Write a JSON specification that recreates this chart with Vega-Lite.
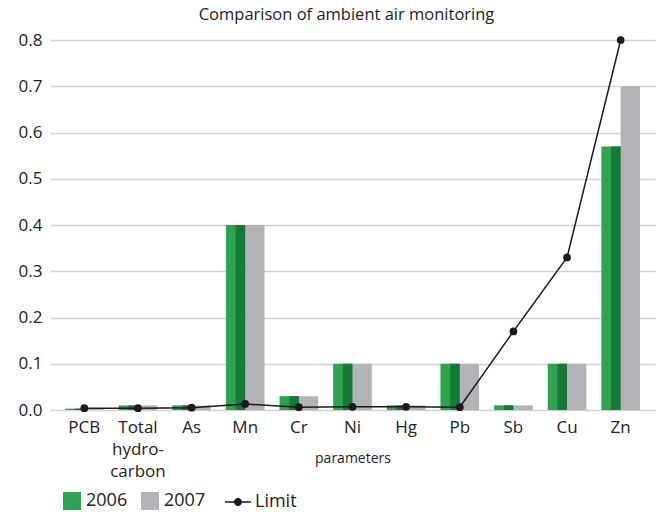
{
  "$schema": "https://vega.github.io/schema/vega-lite/v6.json",
  "width": 605,
  "height": 370,
  "autosize": "none",
  "padding": {"left": 50, "top": 40, "right": 4, "bottom": 102},
  "background": "white",
  "config": {"font": "Open Sans", "view": {"stroke": null}},
  "title": {"text": "Comparison of ambient air monitoring", "fontSize": 16.5, "fontWeight": "normal", "color": "#222222", "offset": 8, "anchor": "middle", "dx": -6},
  "datasets": {
    "measurements": [
      {"parameter": "PCB", "year": "2006", "value": 0.003},
      {"parameter": "PCB", "year": "2007", "value": 0.003},
      {"parameter": "Total hydro-carbon", "year": "2006", "value": 0.01},
      {"parameter": "Total hydro-carbon", "year": "2007", "value": 0.01},
      {"parameter": "As", "year": "2006", "value": 0.01},
      {"parameter": "As", "year": "2007", "value": 0.01},
      {"parameter": "Mn", "year": "2006", "value": 0.40},
      {"parameter": "Mn", "year": "2007", "value": 0.40},
      {"parameter": "Cr", "year": "2006", "value": 0.03},
      {"parameter": "Cr", "year": "2007", "value": 0.03},
      {"parameter": "Ni", "year": "2006", "value": 0.10},
      {"parameter": "Ni", "year": "2007", "value": 0.10},
      {"parameter": "Hg", "year": "2006", "value": 0.01},
      {"parameter": "Hg", "year": "2007", "value": 0.01},
      {"parameter": "Pb", "year": "2006", "value": 0.10},
      {"parameter": "Pb", "year": "2007", "value": 0.10},
      {"parameter": "Sb", "year": "2006", "value": 0.01},
      {"parameter": "Sb", "year": "2007", "value": 0.01},
      {"parameter": "Cu", "year": "2006", "value": 0.10},
      {"parameter": "Cu", "year": "2007", "value": 0.10},
      {"parameter": "Zn", "year": "2006", "value": 0.57},
      {"parameter": "Zn", "year": "2007", "value": 0.70}
    ],
    "limits": [
      {"parameter": "PCB", "limit": 0.004},
      {"parameter": "Total hydro-carbon", "limit": 0.004},
      {"parameter": "As", "limit": 0.005},
      {"parameter": "Mn", "limit": 0.013},
      {"parameter": "Cr", "limit": 0.006},
      {"parameter": "Ni", "limit": 0.007},
      {"parameter": "Hg", "limit": 0.007},
      {"parameter": "Pb", "limit": 0.006},
      {"parameter": "Sb", "limit": 0.17},
      {"parameter": "Cu", "limit": 0.33},
      {"parameter": "Zn", "limit": 0.80}
    ]
  },
  "layer": [
    {
      "data": {"name": "measurements"},
      "mark": {"type": "bar"},
      "encoding": {
        "x": {
          "field": "parameter", "type": "nominal",
          "sort": ["PCB", "Total hydro-carbon", "As", "Mn", "Cr", "Ni", "Hg", "Pb", "Sb", "Cu", "Zn"],
          "scale": {"paddingInner": 0.28, "paddingOuter": 0.28},
          "axis": {
            "title": "parameters", "titleFontSize": 14, "titleFontWeight": "normal", "titleColor": "#222222",
            "titleY": 48, "titleBaseline": "middle",
            "labelFontSize": 17, "labelColor": "#222222", "labelAngle": 0, "labelPadding": 9,
            "labelBaseline": "top", "labelLineHeight": 22, "labelLimit": 0,
            "ticks": false, "domain": false,
            "labelExpr": "datum.label == 'Total hydro-carbon' ? ['Total', 'hydro-', 'carbon'] : datum.label"
          }
        },
        "xOffset": {"field": "year", "type": "nominal", "sort": ["2006", "2007"]},
        "y": {
          "field": "value", "type": "quantitative",
          "scale": {"domain": [0, 0.8], "nice": false},
          "axis": {
            "title": null, "values": [0, 0.1, 0.2, 0.3, 0.4, 0.5, 0.6, 0.7, 0.8], "format": ".1f",
            "labelFontSize": 17, "labelColor": "#222222", "ticks": false, "domain": false,
            "gridColor": "#d2d2d2", "gridWidth": 1.5, "labelPadding": 8
          }
        },
        "color": {
          "field": "year", "type": "nominal",
          "scale": {"domain": ["2006", "2007"], "range": ["#2fa24f", "#b2b3b7"]},
          "legend": {
            "orient": "none", "legendX": 13, "legendY": 452, "direction": "horizontal", "title": null,
            "symbolType": "square", "symbolSize": 324, "symbolStrokeWidth": 0,
            "labelFontSize": 18, "labelColor": "#222222", "columnPadding": 13, "labelOffset": 5
          }
        }
      }
    },
    {
      "data": {"name": "measurements"},
      "transform": [{"filter": "datum.year == '2006'"}],
      "mark": {"type": "bar", "width": {"band": 0.5}, "xOffset": 4.7, "color": "#137a37"},
      "encoding": {
        "x": {"field": "parameter", "type": "nominal", "sort": ["PCB", "Total hydro-carbon", "As", "Mn", "Cr", "Ni", "Hg", "Pb", "Sb", "Cu", "Zn"]},
        "xOffset": {"field": "year", "type": "nominal", "sort": ["2006", "2007"]},
        "y": {"field": "value", "type": "quantitative"}
      }
    },
    {
      "data": {"name": "limits"},
      "mark": {"type": "line", "strokeWidth": 1.5, "point": {"filled": true, "size": 60}},
      "encoding": {
        "x": {"field": "parameter", "type": "nominal", "sort": ["PCB", "Total hydro-carbon", "As", "Mn", "Cr", "Ni", "Hg", "Pb", "Sb", "Cu", "Zn"]},
        "y": {"field": "limit", "type": "quantitative"},
        "color": {
          "datum": "Limit",
          "scale": {"range": ["#1a1a1a"]},
          "legend": {
            "orient": "none", "legendX": 174, "legendY": 448, "title": null,
            "symbolType": "M-1,0L1,0M-0.25,0A0.25,0.25,0,1,0,0.25,0A0.25,0.25,0,1,0,-0.25,0Z",
            "symbolSize": 676, "symbolStrokeWidth": 1.5, "symbolFillColor": "#1a1a1a", "symbolStrokeColor": "#1a1a1a",
            "labelFontSize": 18, "labelColor": "#222222", "labelOffset": 3
          }
        }
      }
    }
  ],
  "resolve": {"scale": {"color": "independent"}}
}
